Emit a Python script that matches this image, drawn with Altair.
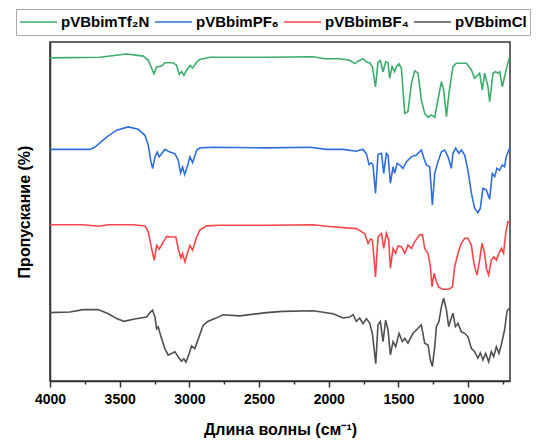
import altair as alt
import pandas as pd

# FTIR spectra of the poly(ionic liquid)s, curves offset vertically
SERIES = ["pVBbimTf₂N", "pVBbimPF₆", "pVBbimBF₄", "pVBbimCl"]
COLORS = ["#3cad6b", "#2f6fdc", "#f5474a", "#505050"]

WN_TF2N = [4000, 3642, 3450, 3331, 3295, 3254, 3235, 3199, 3176, 3116, 3092, 3073, 3056, 3040,
           3020, 2996, 2977, 2948, 2925, 2853, 2447, 2113, 2029, 1921, 1850, 1814, 1790, 1754,
           1730, 1706, 1687, 1665, 1647, 1630, 1611, 1592, 1575, 1563, 1546, 1527, 1515, 1496,
           1479, 1455, 1432, 1407, 1384, 1360, 1336, 1312, 1288, 1264, 1240, 1217, 1192, 1176,
           1156, 1138, 1109, 1085, 1013, 977, 954, 918, 898, 882, 858, 846, 822, 803, 787, 774,
           755, 739, 722, 708, 702]
T_TF2N = [107.7, 107.9, 109.0, 108.3, 106.9, 102.4, 104.7, 105.0, 106.1, 106.1, 105.2, 102.2,
          103.2, 101.9, 103.6, 105.2, 104.3, 106.3, 107.2, 107.9, 107.9, 108.1, 107.4, 107.4,
          106.9, 105.8, 106.6, 107.4, 106.3, 106.0, 104.7, 98.0, 106.3, 106.8, 103.1, 106.4,
          106.1, 100.9, 104.8, 103.1, 104.8, 105.7, 104.2, 89.2, 89.8, 99.2, 103.4, 102.6, 93.7,
          89.2, 87.9, 88.7, 87.9, 93.7, 99.8, 97.0, 88.1, 95.9, 104.8, 105.9, 105.9, 103.7,
          100.9, 102.6, 97.0, 102.6, 98.1, 93.1, 102.6, 103.1, 102.6, 103.1, 98.1, 101.4,
          104.8, 107.2, 107.9]

WN_PF6 = [4000, 3713, 3677, 3594, 3522, 3439, 3367, 3319, 3295, 3278, 3264, 3247, 3231, 3217,
          3176, 3140, 3104, 3080, 3063, 3049, 3034, 3016, 2996, 2977, 2948, 2925, 2829, 2447,
          2136, 2017, 1898, 1802, 1778, 1754, 1730, 1711, 1694, 1683, 1665, 1647, 1622, 1606,
          1587, 1575, 1558, 1539, 1527, 1510, 1491, 1468, 1443, 1407, 1371, 1336, 1317, 1300,
          1276, 1257, 1240, 1217, 1192, 1169, 1145, 1121, 1109, 1090, 1066, 1049, 1025, 1002,
          977, 954, 930, 913, 894, 870, 846, 827, 810, 794, 774, 755, 739, 727, 708, 702]
T_PF6 = [77.2, 77.2, 78.0, 81.3, 83.6, 84.7, 83.9, 81.9, 78.6, 73.6, 70.8, 74.7, 76.3, 74.7,
         77.2, 76.3, 75.8, 73.6, 69.4, 71.3, 68.8, 71.3, 74.7, 72.8, 76.9, 77.7, 77.9, 77.7,
         77.9, 77.2, 77.2, 76.6, 77.0, 77.2, 75.7, 72.1, 72.7, 72.0, 62.5, 75.5, 75.9, 69.2,
         75.9, 75.3, 65.9, 71.4, 69.2, 72.6, 72.0, 70.9, 73.1, 74.8, 75.3, 77.0, 74.2, 72.0,
         71.4, 58.7, 69.2, 73.1, 76.4, 77.0, 74.8, 70.9, 75.9, 77.6, 75.9, 77.0, 75.3, 70.3,
         62.6, 57.6, 56.1, 57.6, 64.2, 63.7, 60.6, 69.2, 68.1, 70.9, 70.3, 72.0, 71.4, 74.8,
         77.0, 77.7]

WN_BF4 = [4000, 3761, 3654, 3582, 3403, 3319, 3295, 3271, 3252, 3235, 3217, 3188, 3163, 3128,
          3097, 3080, 3061, 3049, 3032, 3016, 2996, 2977, 2948, 2925, 2877, 2781, 2447, 2113,
          2017, 1802, 1766, 1742, 1718, 1701, 1687, 1665, 1647, 1622, 1606, 1587, 1570, 1558,
          1539, 1520, 1503, 1479, 1455, 1432, 1407, 1384, 1348, 1328, 1312, 1288, 1271, 1260,
          1245, 1228, 1210, 1181, 1138, 1113, 1097, 1073, 1049, 1025, 1002, 977, 959, 937, 918,
          901, 882, 870, 853, 834, 817, 798, 779, 762, 746, 731, 715, 703]
T_BF4 = [52.1, 52.1, 51.6, 52.1, 52.1, 51.7, 49.7, 44.1, 40.2, 45.2, 43.9, 46.3, 48.2, 48.0,
         48.0, 44.1, 41.0, 42.4, 39.7, 42.4, 45.2, 43.6, 48.0, 50.3, 51.7, 51.9, 51.9, 52.1,
         51.6, 50.8, 49.8, 49.1, 45.8, 47.3, 47.0, 34.7, 48.0, 49.2, 44.2, 49.2, 47.0, 37.6,
         44.2, 42.6, 45.0, 44.8, 42.6, 45.3, 44.2, 46.4, 48.7, 48.7, 44.2, 42.6, 38.1, 31.4,
         35.9, 33.1, 31.2, 30.6, 30.6, 31.4, 38.1, 42.6, 45.9, 47.6, 47.6, 45.3, 39.2, 35.3,
         40.3, 45.9, 42.6, 37.6, 35.3, 40.3, 41.4, 40.3, 42.6, 44.2, 42.6, 49.2, 53.1, 52.8]

WN_CL = [4000, 3857, 3761, 3654, 3582, 3522, 3470, 3403, 3307, 3283, 3264, 3247, 3235, 3224,
         3206, 3176, 3152, 3104, 3080, 3056, 3040, 3025, 3002, 2984, 2961, 2925, 2901, 2865,
         2817, 2758, 2638, 2447, 2328, 2113, 1969, 1898, 1850, 1826, 1802, 1778, 1754, 1730,
         1706, 1687, 1663, 1647, 1630, 1611, 1592, 1575, 1558, 1539, 1520, 1496, 1472, 1455,
         1432, 1396, 1360, 1336, 1312, 1288, 1271, 1257, 1240, 1228, 1210, 1192, 1176, 1156,
         1140, 1126, 1109, 1092, 1073, 1049, 1025, 1002, 977, 954, 930, 913, 894, 875, 853,
         834, 817, 798, 779, 760, 739, 722, 708]
T_CL = [22.8, 23.0, 23.8, 23.8, 22.4, 20.8, 19.9, 20.6, 21.3, 22.8, 23.6, 21.3, 17.4, 18.0,
        15.2, 10.8, 8.6, 9.7, 8.0, 6.6, 7.4, 6.3, 9.1, 11.7, 10.8, 15.5, 18.6, 19.9, 20.8,
        22.1, 21.7, 22.8, 23.2, 23.4, 22.4, 21.0, 21.3, 22.1, 19.9, 21.0, 19.1, 20.8, 19.2,
        15.7, 5.8, 18.7, 19.8, 13.1, 20.3, 17.0, 8.7, 13.1, 11.4, 15.9, 13.1, 14.2, 12.6,
        15.9, 17.6, 18.7, 12.6, 12.0, 7.0, 4.8, 11.4, 18.1, 19.8, 24.8, 27.6, 23.7, 18.1,
        20.3, 22.6, 18.1, 19.2, 16.4, 15.9, 14.8, 10.9, 9.8, 7.6, 9.4, 7.0, 9.2, 6.4, 9.8,
        8.1, 11.4, 9.2, 12.6, 17.0, 23.1, 24.2]

X_TICKS = [4000, 3750, 3500, 3250, 3000, 2750, 2500, 2250, 2000, 1750, 1500, 1250, 1000, 750]

frames = []
for name, wn, t in zip(SERIES, [WN_TF2N, WN_PF6, WN_BF4, WN_CL], [T_TF2N, T_PF6, T_BF4, T_CL]):
    frames.append(pd.DataFrame({"wn": wn, "t": t, "sample": name}))
df = pd.concat(frames, ignore_index=True)

FONT = "Liberation Sans"

chart = (
    alt.Chart(df)
    .mark_line(strokeWidth=1.6)
    .encode(
        x=alt.X(
            "wn:Q",
            scale=alt.Scale(domain=[700, 4000], reverse=True, nice=False, zero=False),
            axis=alt.Axis(
                title="Длина волны (см⁻¹)",
                values=X_TICKS,
                format="d",
                labelExpr="datum.value % 500 === 0 ? datum.label : ''",
                tickSize={"condition": {"test": "datum.value % 500 === 0", "value": 6}, "value": 3},
                labelFlush=False,
                labelOverlap=False,
                grid=False,
                labelFont=FONT,
                labelFontSize=14,
                labelFontWeight="bold",
                labelColor="#000",
                labelPadding=5,
                titleFont=FONT,
                titleFontSize=16,
                titleFontWeight="bold",
                titleColor="#000",
                titlePadding=15,
                domainColor="#333",
                domainWidth=1.5,
                tickColor="#333",
                tickWidth=1.5,
            ),
        ),
        y=alt.Y(
            "t:Q",
            scale=alt.Scale(domain=[0, 113], nice=False, zero=False),
            axis=alt.Axis(
                title="Пропускание (%)",
                labels=False,
                ticks=False,
                grid=False,
                domainColor="#333",
                domainWidth=1.5,
                titleFont=FONT,
                titleFontSize=16,
                titleFontWeight="bold",
                titleColor="#000",
                titlePadding=18,
            ),
        ),
        color=alt.Color(
            "sample:N",
            scale=alt.Scale(domain=SERIES, range=COLORS),
            legend=alt.Legend(
                title=None,
                orient="none",
                legendX=-34,
                legendY=-33,
                direction="horizontal",
                symbolType="stroke",
                symbolSize=1369,
                symbolStrokeWidth=1.6,
                clipHeight=20,
                labelFont=FONT,
                labelFontSize=15,
                labelFontWeight="bold",
                labelColor="#000",
                labelOffset=3,
                columnPadding=4,
                padding=3,
                fillColor="white",
                strokeColor="#aaaaaa",
            ),
        ),
        order=alt.Order("wn:Q", sort="descending"),
    )
    .properties(
        width=460,
        height=339,
        autosize=alt.AutoSizeParams(type="none"),
        padding={"left": 50, "top": 42, "right": 32, "bottom": 60},
        background="white",
    )
    .configure_view(stroke="#333", strokeWidth=1.5)
)

chart.save("out.html", embed_options={"renderer": "svg", "actions": False})
